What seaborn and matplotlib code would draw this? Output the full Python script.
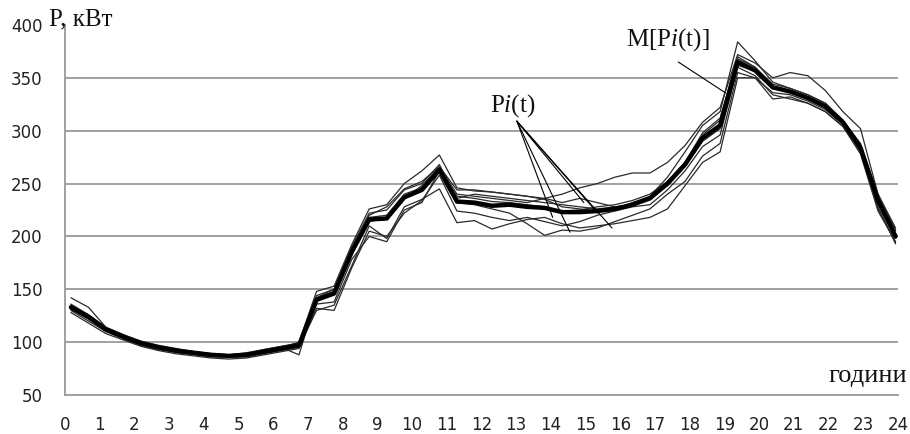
import numpy as np
import pandas as pd
import seaborn as sns
import matplotlib.pyplot as plt

# half-hour readings, 48 per day
hours = np.linspace(0.17, 23.93, 48)

mean_p = [133, 124, 112, 105, 99, 95, 92, 90, 88, 87, 88, 91, 94, 97, 140, 146,
          185, 216, 217, 237, 244, 263, 233, 232, 229, 230, 228, 227, 223, 223, 224, 226,
          230, 236, 250, 268, 293, 305, 365, 357, 341, 337, 331, 323, 308, 284, 234, 200]

p1 = [142, 133, 114, 107, 100, 96, 93, 90, 88, 87, 89, 92, 95, 100, 148, 153,
      192, 226, 230, 250, 262, 277, 246, 243, 242, 240, 238, 235, 228, 226, 224, 226,
      232, 238, 256, 280, 305, 318, 384, 366, 346, 340, 334, 326, 310, 288, 238, 205]
p2 = [130, 120, 110, 103, 97, 93, 90, 88, 86, 86, 87, 90, 93, 96, 130, 135,
      172, 210, 198, 228, 235, 245, 213, 215, 207, 212, 216, 218, 212, 208, 210, 212,
      215, 218, 226, 248, 270, 280, 350, 350, 336, 334, 328, 320, 306, 280, 228, 193]
p3 = [135, 125, 113, 106, 99, 96, 93, 91, 89, 88, 90, 93, 96, 99, 142, 150,
      188, 220, 228, 245, 252, 266, 240, 238, 236, 234, 232, 236, 240, 246, 250, 256,
      260, 260, 270, 286, 308, 322, 372, 364, 350, 355, 352, 338, 318, 302, 240, 206]
p4 = [132, 122, 111, 104, 98, 94, 91, 89, 87, 86, 86, 89, 92, 95, 136, 138,
      178, 200, 195, 225, 232, 262, 232, 230, 226, 222, 212, 201, 206, 205, 208, 214,
      220, 226, 240, 252, 276, 288, 355, 350, 330, 332, 326, 318, 304, 278, 224, 195]
p5 = [134, 124, 112, 105, 99, 95, 92, 90, 88, 87, 88, 91, 94, 97, 140, 147,
      186, 218, 220, 240, 246, 264, 238, 236, 233, 232, 230, 228, 224, 225, 228, 230,
      234, 240, 252, 270, 296, 310, 368, 360, 342, 338, 332, 324, 308, 285, 236, 202]
p6 = [136, 126, 114, 107, 101, 97, 94, 91, 89, 88, 89, 93, 96, 99, 144, 150,
      190, 222, 225, 244, 250, 268, 236, 240, 238, 236, 234, 232, 230, 228, 226, 228,
      230, 236, 248, 266, 290, 302, 362, 356, 340, 336, 330, 322, 308, 284, 232, 198]
p7 = [128, 118, 108, 102, 96, 92, 89, 87, 85, 84, 85, 88, 91, 94, 132, 130,
      170, 205, 200, 222, 234, 258, 224, 222, 218, 215, 218, 214, 210, 214, 220, 224,
      228, 230, 244, 262, 285, 296, 360, 352, 334, 330, 326, 318, 304, 280, 226, 194]
p8 = [131, 122, 110, 104, 98, 95, 92, 90, 88, 87, 89, 92, 95, 88, 142, 148,
      184, 214, 218, 236, 248, 266, 244, 244, 242, 240, 238, 236, 232, 236, 232, 228,
      230, 236, 252, 270, 298, 312, 370, 360, 344, 340, 334, 326, 310, 286, 240, 208]

series = {"P1": p1, "P2": p2, "P3": p3, "P4": p4,
          "P5": p5, "P6": p6, "P7": p7, "P8": p8}

# annotation pointers (hour, kW)
pi_text = (12.9, 324)
pi_start = (13.02, 309)
pi_ends = [(14.05, 218), (14.55, 204), (14.95, 232), (15.35, 222), (15.76, 208)]
m_text = (17.38, 386)
m_start = (17.67, 365)
m_end = (19.02, 336)

long = pd.concat([pd.DataFrame({"hour": hours, "P": v, "series": k})
                  for k, v in series.items()], ignore_index=True)
mean_df = pd.DataFrame({"hour": hours, "P": mean_p})

sns.set_style("white")
plt.rcParams["font.family"] = ["DejaVu Sans"]
plt.rcParams["mathtext.fontset"] = "custom"
plt.rcParams["mathtext.rm"] = "Liberation Serif"
plt.rcParams["mathtext.it"] = "Liberation Serif:italic"

fig = plt.figure(figsize=(9.1, 4.34), dpi=100)
ax = fig.add_axes([65 / 910, 39 / 434, 833 / 910, 370 / 434])

sns.lineplot(data=long, x="hour", y="P", units="series", estimator=None,
             color="#2a2a2a", lw=0.9, ax=ax, legend=False)
sns.lineplot(data=mean_df, x="hour", y="P", color="black", lw=3.2, ax=ax)

ax.set_xlim(0, 24)
ax.set_ylim(50, 400)
ax.set_xticks(range(0, 25))
ax.set_xticks(np.arange(0.5, 24, 1.0), minor=True)
ax.set_yticks(range(50, 401, 50))
ax.yaxis.grid(True, color="#999999", lw=1.3)
ax.get_ygridlines()[-1].set_visible(False)
ax.get_ygridlines()[0].set_visible(False)
ax.set_axisbelow(True)

for s in ["top", "right"]:
    ax.spines[s].set_visible(False)
for s in ["left", "bottom"]:
    ax.spines[s].set_color("#999999")
    ax.spines[s].set_linewidth(1.3)

ax.tick_params(axis="both", which="both", direction="out", length=6,
               color="#999999", width=1.2, labelsize=12, labelcolor="#222222")
ax.tick_params(axis="x", pad=9)
ax.tick_params(axis="y", pad=10)
ax.set_xlabel("")
ax.set_ylabel("")

serif = dict(family="Liberation Serif", fontsize=18, color="#111111")
ax.text(-0.46, 405, "P, кВт", ha="left", va="center", clip_on=False, **serif)
ax.text(24.27, 68, "години", ha="right", va="center", clip_on=False,
        **dict(serif, fontsize=19))

ax.text(*pi_text, r"P$\mathit{i}$(t)", ha="center", va="center", **serif)
for end in pi_ends:
    ax.annotate("", xy=end, xytext=pi_start,
                arrowprops=dict(arrowstyle="-", color="black", lw=0.8,
                                shrinkA=0, shrinkB=0))
ax.text(*m_text, r"M[P$\mathit{i}$(t)]", ha="center", va="center", **serif)
ax.annotate("", xy=m_end, xytext=m_start,
            arrowprops=dict(arrowstyle="-", color="black", lw=0.8,
                            shrinkA=0, shrinkB=0))

fig.savefig("out.png", dpi=100)
